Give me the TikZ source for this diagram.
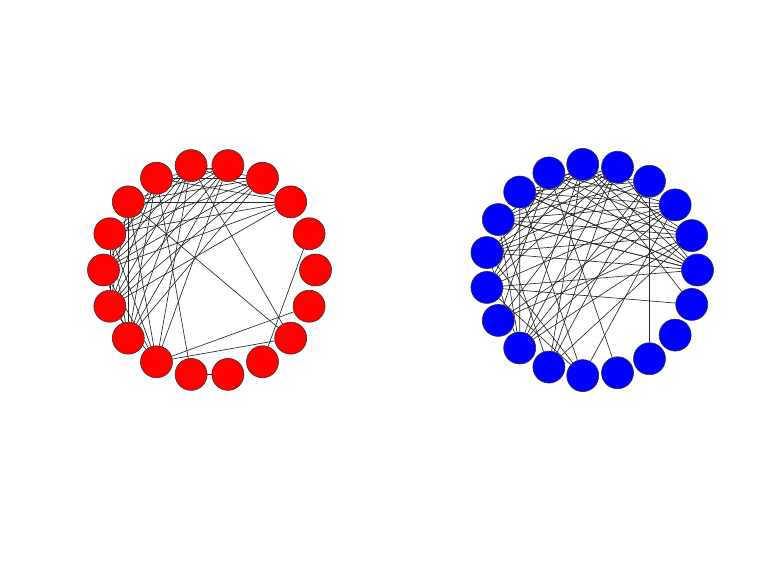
\documentclass[tikz,border=0pt]{standalone}
\usepackage{tikz}
\usetikzlibrary{backgrounds}
\definecolor{nodered}{RGB}{255,0,0}
\definecolor{nodeblue}{RGB}{0,0,255}

\begin{document}
\begin{tikzpicture}[
  x=1pt, y=1pt,
  rednode/.style  = {circle, fill=nodered, draw=black!80, line width=0.6pt,
                  minimum size=32pt, inner sep=0pt},
  bluenode/.style = {circle, fill=nodeblue, draw=black!80, line width=0.6pt,
                  minimum size=32pt, inner sep=0pt},
  edge/.style     = {draw=black!85, line width=0.65pt},
]
\useasboundingbox (0,0) rectangle (763,560);

%% Left graph (18 nodes on a circle)
\foreach \i in {0,...,17} {
  \node[rednode] (l\i) at ([shift={(20*\i:106)}]209.5,290) {};
}

%% Right graph (19 nodes on a circle)
\foreach \i in {0,...,18} {
  \node[bluenode] (r\i) at ([shift={(360/19*\i:106)}]591.5,290) {};
}

%% Edges behind the nodes
\begin{scope}[on background layer]
\foreach \a/\b in {2/7, 2/6, 2/8, 2/9, 2/10, 2/5,
                   3/6, 3/7, 3/8, 3/9, 3/10, 3/11, 3/5,
                   4/7, 4/8, 4/9, 4/10, 4/11, 4/12, 4/6,
                   5/8, 5/9, 5/10, 5/11, 5/12, 5/16,
                   6/9, 6/10, 6/11, 6/13,
                   7/10, 7/11, 7/12, 7/16,
                   8/11, 8/12, 8/10, 9/11, 9/12, 10/12,
                   12/16, 12/17, 1/15, 13/14} {
  \draw[edge] (l\a) -- (l\b);
}
\foreach \a/\b in {3/16, 10/18, 6/15, 5/18, 2/14, 12/1, 13/1, 11/1,
                   0/7, 0/8, 0/6, 0/10, 1/7, 1/8, 1/9, 1/5,
                   2/6, 2/7, 2/9, 2/10, 2/11, 2/12,
                   3/7, 3/8, 3/9, 3/12, 3/13, 3/6,
                   4/8, 4/9, 4/10, 4/11, 4/12, 4/13, 4/7, 4/0,
                   5/9, 5/10, 5/12, 5/13, 5/8, 5/0,
                   6/10, 6/11, 6/1, 7/12, 7/14, 7/0,
                   8/12, 8/13, 8/0, 8/2, 9/12, 9/0, 9/14, 10/14} {
  \draw[edge] (r\a) -- (r\b);
}
\end{scope}
\end{tikzpicture}
\end{document}
